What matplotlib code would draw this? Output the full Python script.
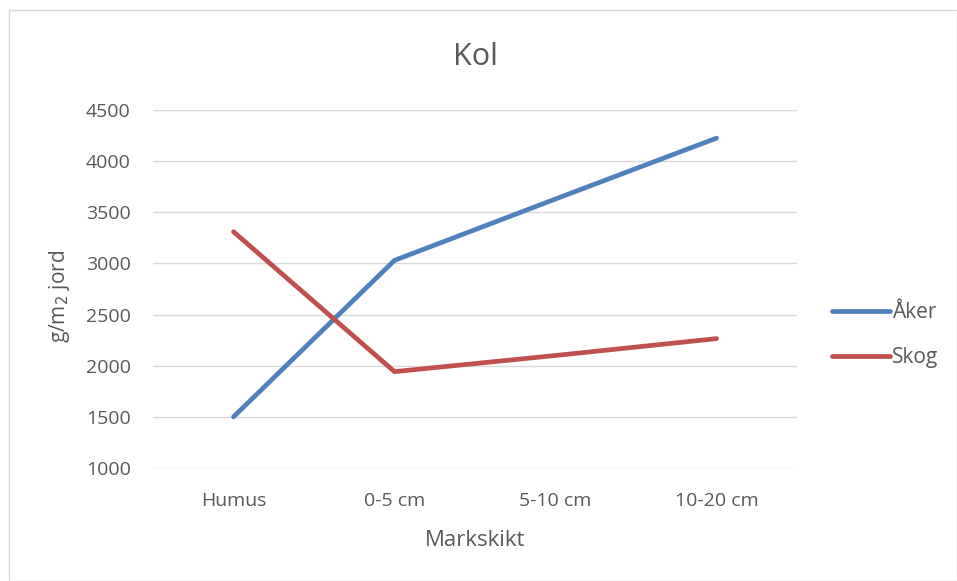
import matplotlib.pyplot as plt
from matplotlib.patches import Rectangle

# data
kategorier = ["Humus", "0-5 cm", "5-10 cm", "10-20 cm"]
aker = [1500, 3030, 3630, 4225]
skog = [3310, 1942, 2100, 2265]
yticks = [1000, 1500, 2000, 2500, 3000, 3500, 4000, 4500]

plt.rcParams['font.family'] = ['Open Sans', 'DejaVu Sans']
grey = "#595959"

fig = plt.figure(figsize=(9.57, 5.81), dpi=100)
# yttre ram
fig.patches.append(Rectangle((9/957, 0), 1 - 9/957, 1 - 10/581, transform=fig.transFigure,
                             fill=False, edgecolor="#d9d9d9", linewidth=1))

ax = fig.add_axes([153/957, 1 - 468/581, (797 - 153)/957, (468 - 110)/581])
x = range(len(kategorier))
ax.plot(x, aker, color="#4f81bd", linewidth=3.4, solid_capstyle="round", label="Åker")
ax.plot(x, skog, color="#c0504d", linewidth=3.4, solid_capstyle="round", label="Skog")

ax.set_xlim(-0.5, 3.5)
ax.set_ylim(1000, 4500)
ax.set_yticks(yticks)
ax.set_xticks(list(x))
ax.set_xticklabels(kategorier)
ax.grid(axis="y", color="#d9d9d9", linewidth=1)
ax.set_axisbelow(True)
for s in ax.spines.values():
    s.set_visible(False)
ax.tick_params(length=0, labelsize=14, labelcolor=grey)
ax.tick_params(axis="y", pad=16)
ax.tick_params(axis="x", pad=17)

fig.text(0.5 * (153 + 797) / 957, 1 - 57/581, "Kol", fontsize=22, color=grey,
         ha="center", va="center")
ax.set_xlabel("Markskikt", fontsize=16, color=grey, va="center")
ax.xaxis.set_label_coords(0.5, -(540 - 468) / 358)
ax.set_ylabel("g/m$_2$ jord", fontsize=15, color=grey, va="center")
ax.yaxis.set_label_coords(-(153 - 60) / 644, 0.48)

ax.legend(loc="center left", bbox_to_anchor=(1.026, 0.372), frameon=False, fontsize=15,
          handlelength=2.75, handletextpad=0.1, labelspacing=1.15, labelcolor=grey)

fig.savefig("out.png", dpi=100)
